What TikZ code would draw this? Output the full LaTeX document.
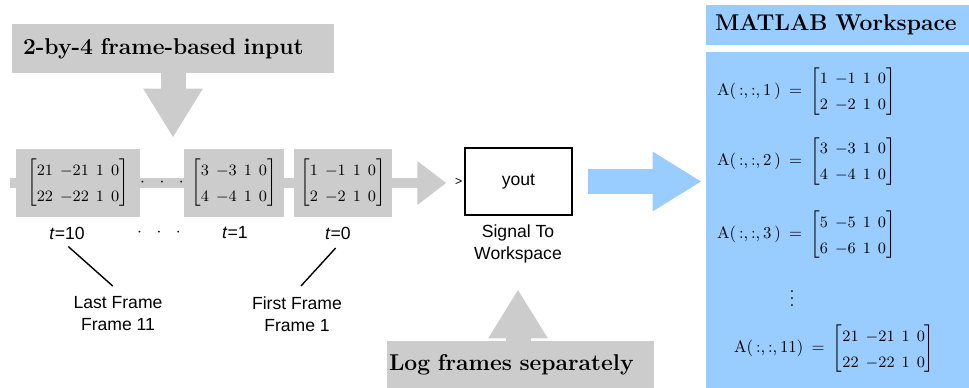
\documentclass[tikz,border=0pt]{standalone}
\usepackage{amsmath}
\usepackage{fontspec}
\setsansfont{Liberation Sans}
\usetikzlibrary{positioning,arrows.meta,calc}
\definecolor{boxgray}{HTML}{CCCCCC}
\definecolor{wsblue}{HTML}{99CCFF}
\newcommand{\frmat}[1]{$\setlength{\arraycolsep}{2pt}\renewcommand{\arraystretch}{1.35}\begin{bmatrix}#1\end{bmatrix}$}
\tikzset{
  frm/.style={fill=boxgray, minimum height=1.36cm, inner sep=0pt,
              font=\fontsize{9}{11}\selectfont},
  banner/.style={font=\fontsize{13}{15}\selectfont\bfseries, align=left,
                 inner ysep=0pt},
  lbl/.style={font=\sffamily\fontsize{10}{12.5}\selectfont, align=center},
  eqn/.style={anchor=west, font=\fontsize{9.5}{11}\selectfont},
  wire/.style={draw=boxgray, line width=0.2cm},
  bigarr/.style={line width=0.5cm, -{Triangle[length=0.98cm, width=1.12cm]}},
  pointer/.style={thick},
}

\begin{document}
\begin{tikzpicture}[x=0.02cm, y=-0.02cm]
    \useasboundingbox (0,0) rectangle (969,388);
    % input banner and frames
    \node[banner, fill=boxgray, text width=6.0cm, inner xsep=0.22cm,
          minimum height=0.98cm] (inbox) at (173,48.5) {2-by-4 frame-based input};
    \node[frm, minimum width=2.48cm] (fr10) at (78,183) {\frmat{21&-21&1&0\\22&-22&1&0}};
    \node[frm, minimum width=2.0cm] (fr1) at (234,183) {\frmat{3&-3&1&0\\4&-4&1&0}};
    \node[frm, minimum width=1.96cm] (fr0) at (343,183) {\frmat{1&-1&1&0\\2&-2&1&0}};
    \coordinate (lstub) at (10,183);
    \draw[bigarr, boxgray, shorten >=0.22cm] (inbox.south) -- (inbox.south |- fr10.north);
    \draw[wire] (lstub) -- (fr10);
    \draw[wire] (fr10) -- node (dotsa) {$\cdot\hspace{6pt}\cdot\hspace{6pt}\cdot$} (fr1);
    \draw[wire] (fr1) -- (fr0);
    % time stamps
    \node[lbl] (t10) at (67,233) {\textit{t}=10};
    \node[lbl] (dotsb) at (159,233) {$\cdot\hspace{6pt}\cdot\hspace{6pt}\cdot$};
    \node[lbl] (t1) at (235,233) {\textit{t}=1};
    \node[lbl] (t0) at (338,233) {\textit{t}=0};
    \node[lbl] (lastfr) at (118,314) {Last Frame\\Frame 11};
    \node[lbl] (firstfr) at (297,314) {First Frame\\Frame 1};
    \draw[pointer, shorten <=1pt, shorten >=0.14cm] (t10.south) -- (lastfr.north);
    \draw[pointer, shorten <=2pt, shorten >=0.12cm] (t0.south) -- (firstfr.north);
    % signal to workspace block
    \node[draw, thick, minimum width=2.14cm, minimum height=1.34cm,
          font=\sffamily\fontsize{10}{12}\selectfont] (stw) at (518.5,181.5) {yout};
    \node[font=\sffamily\scriptsize, inner sep=1pt, anchor=east] (inmark) at (stw.west) {>};
    \node[lbl] (stwlbl) at (518,244) {Signal To\\Workspace};
    \draw[wire, -{Triangle[length=0.58cm, width=0.84cm]}, shorten >=0.36cm]
      (fr0) -- (fr0 -| stw.west);
    \node[banner, fill=boxgray, text width=5.26cm, inner xsep=0.04cm,
          minimum height=0.94cm] (logbox) at (520.5,364.5) {Log frames separately};
    \draw[bigarr, boxgray, shorten >=0.4cm] (logbox.north -| stwlbl) -- (stwlbl.south);
    % MATLAB workspace
    \node[banner, fill=wsblue, text width=4.9cm, inner xsep=0.18cm,
          minimum height=0.8cm] (wshead) at (837.5,25) {MATLAB Workspace};
    \node[fill=wsblue, minimum width=5.26cm, minimum height=6.72cm,
          inner sep=0pt] (wsbody) at (837.5,220) {};
    \draw[bigarr, wsblue, shorten <=0.3cm, shorten >=0.08cm]
      (stw.east) -- (stw.east -| wsbody.west);
    \node[eqn] (eqa) at (711,91.5) {A(\,:,\,:,\,1\,) \,=\, \frmat{1&-1&1&0\\2&-2&1&0}};
    \node[eqn] (eqb) at (711,161.5) {A(\,:,\,:,\,2\,) \,=\, \frmat{3&-3&1&0\\4&-4&1&0}};
    \node[eqn] (eqc) at (711,235) {A(\,:,\,:,\,3\,) \,=\, \frmat{5&-5&1&0\\6&-6&1&0}};
    \node (vd) at (792,293) {$\vdots$};
    \node[eqn] (eqd) at (728,349) {A(\,:,\,:,\,11) \,=\, \frmat{21&-21&1&0\\22&-22&1&0}};
\end{tikzpicture}
\end{document}
